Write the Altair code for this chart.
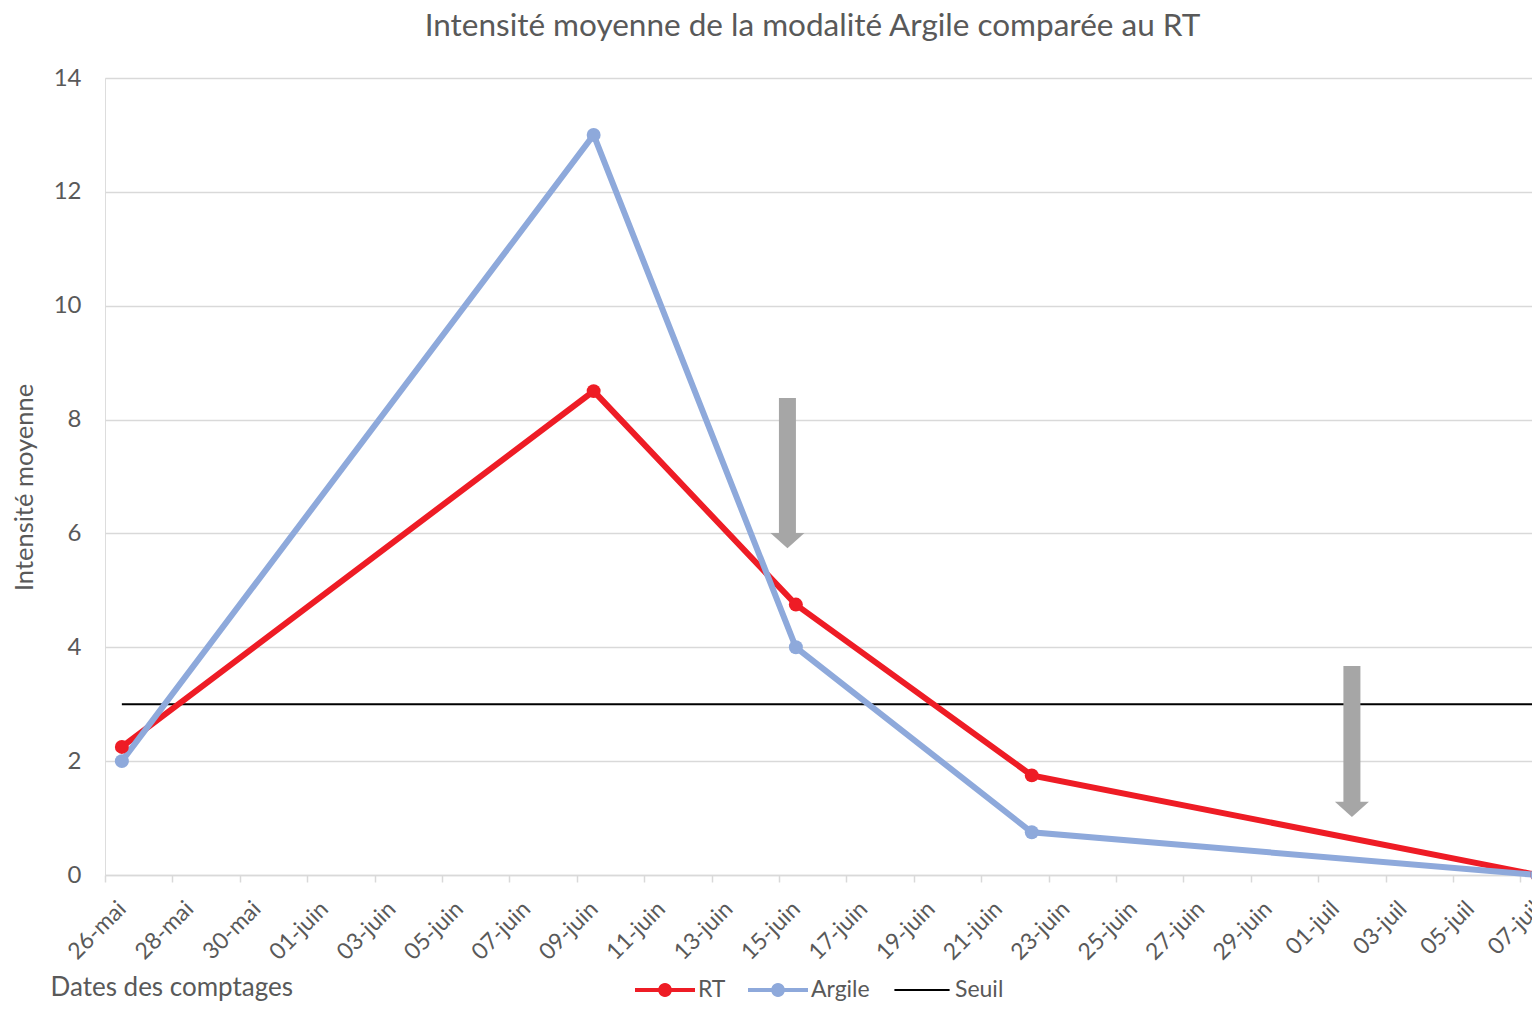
import math
import altair as alt
import pandas as pd

# ---- data ----
dates = ["2021-05-26", "2021-06-09", "2021-06-15", "2021-06-22", "2021-07-07"]
rt_values = [2.25, 8.5, 4.75, 1.75, 0.0]
argile_values = [2.0, 13.0, 4.0, 0.75, 0.0]
series_names = ["RT", "Argile", "Seuil"]
series_colors = ["#EE1C25", "#8EA9DB", "#000000"]
seuil_value = [3]
seuil_start = ["2021-05-26"]
seuil_end = ["2021-07-08"]
tick_dates = ["2021-05-26", "2021-05-28", "2021-05-30", "2021-06-01", "2021-06-03",
              "2021-06-05", "2021-06-07", "2021-06-09", "2021-06-11", "2021-06-13",
              "2021-06-15", "2021-06-17", "2021-06-19", "2021-06-21", "2021-06-23",
              "2021-06-25", "2021-06-27", "2021-06-29", "2021-07-01", "2021-07-03",
              "2021-07-05", "2021-07-07"]
month_names = ["janv", "févr", "mars", "avr", "mai", "juin", "juil", "août",
               "sept", "oct", "nov", "déc"]
y_ticks = [0, 2, 4, 6, 8, 10, 12, 14]
arrow_x = ["2021-06-15 06:00", "2021-07-02 00:00"]
arrow_top = [8.38, 3.67]
arrow_base = [5.95, 1.25]
arrow_tip = [5.74, 1.02]

FONT = "Lato"
TXT = "#595959"
GRID = "#D9D9D9"
HALF_DAY = 43200000


def dt(s, hours=0, minutes=0):
    y, m, d = (int(v) for v in s.split("-"))
    return alt.DateTime(year=y, month=m, date=d, hours=hours, minutes=minutes, utc=True)


rows = []
for d, r, a in zip(dates, rt_values, argile_values):
    rows.append({"serie": "RT", "date": d, "value": r})
    rows.append({"serie": "Argile", "date": d, "value": a})
df = pd.DataFrame(rows)

seuil_df = pd.DataFrame({"start": seuil_start, "end": seuil_end, "value": seuil_value})
arrow_df = pd.DataFrame({"x": arrow_x, "top": arrow_top, "base": arrow_base, "tip": arrow_tip})
legend_df = pd.DataFrame({"serie": series_names})

# visible window ends a little before the last date (the chart is cut at the right edge)
x_scale = alt.Scale(type="utc", domain=[dt("2021-05-26"), dt("2021-07-07", 8, 15)])
y_scale = alt.Scale(domain=[0, 14], nice=False, zero=True)

month_js = "[" + ",".join("'" + m + "'" for m in month_names) + "]"
x_axis = alt.Axis(
    values=[dt(s) for s in tick_dates],
    labelExpr="utcFormat(datum.value, '%d') + '-' + " + month_js + "[utcmonth(datum.value)]",
    labelAngle=-45, labelAlign="right", labelBaseline="middle",
    labelOffset=17, labelPadding=23, labelFont=FONT, labelFontSize=23, labelColor=TXT,
    labelOverlap=False, labelFlush=False, labelBound=False,
    tickColor=GRID, tickSize=7, tickWidth=1.5,
    domainColor=GRID, domainWidth=1.5, grid=False,
    title="Dates des comptages", titleX=-55, titleY=120, titleAlign="left",
    titleBaseline="alphabetic", titleFont=FONT, titleFontSize=26, titleFontWeight="normal",
    titleColor=TXT,
)
y_axis = alt.Axis(
    values=y_ticks, grid=True, gridColor=GRID, gridWidth=1.3,
    domain=False, ticks=False, labelPadding=24,
    labelFont=FONT, labelFontSize=24, labelColor=TXT,
    title="Intensité moyenne", titleX=-81, titleY=409, titleAngle=-90,
    titleAlign="center", titleBaseline="middle", titleFont=FONT, titleFontSize=25.5,
    titleFontWeight="normal", titleColor=TXT,
)

# colour scale for the two data series only (domain differs from the legend's)
line_scale = alt.Scale(domain=series_names[:2], range=series_colors[:2])

base = alt.Chart(df).transform_calculate(
    t="time(utcParse(datum.date, '%Y-%m-%d')) + " + str(HALF_DAY)
)

seuil = alt.Chart(seuil_df).transform_calculate(
    t0="time(utcParse(datum.start, '%Y-%m-%d')) + " + str(HALF_DAY),
    t1="time(utcParse(datum.end, '%Y-%m-%d'))",
).mark_rule(color=series_colors[2], strokeWidth=2).encode(
    x=alt.X("t0:T", scale=x_scale, axis=x_axis),
    x2="t1:T",
    y=alt.Y("value:Q", scale=y_scale, axis=y_axis),
)

lines = base.mark_line(strokeWidth=6).encode(
    x=alt.X("t:T", scale=x_scale, axis=x_axis),
    y=alt.Y("value:Q", scale=y_scale, axis=y_axis),
    color=alt.Color("serie:N", scale=line_scale, legend=None),
    order=alt.Order("t:Q"),
)
points = base.mark_point(filled=True, size=195, opacity=1).encode(
    x=alt.X("t:T", scale=x_scale, axis=x_axis),
    y=alt.Y("value:Q", scale=y_scale, axis=y_axis),
    color=alt.Color("serie:N", scale=line_scale, legend=None),
)

arrows_base = alt.Chart(arrow_df).transform_calculate(
    ax="time(utcParse(datum.x, '%Y-%m-%d %H:%M'))"
)
shafts = arrows_base.mark_rule(color="#A6A6A6", strokeWidth=17, strokeCap="butt").encode(
    x=alt.X("ax:T", scale=x_scale, axis=x_axis),
    y=alt.Y("top:Q", scale=y_scale, axis=y_axis),
    y2="base:Q",
)
heads = arrows_base.mark_point(
    shape="M-1,-0.9L1,-0.9L0,0Z", size=1156, filled=True, color="#A6A6A6", opacity=1,
).encode(
    x=alt.X("ax:T", scale=x_scale, axis=x_axis),
    y=alt.Y("tip:Q", scale=y_scale, axis=y_axis),
)

# legend symbols: line (+ marker) drawn as filled paths (symbol geometry only)
r = 0.23
circle = "M" + "L".join(
    "{:.4f},{:.4f}".format(r * math.cos(2 * math.pi * k / 24), r * math.sin(2 * math.pi * k / 24))
    for k in range(24)
) + "Z"
marker_path = "M-1,-0.07L1,-0.07L1,0.07L-1,0.07Z" + circle
thin_path = "M-0.92,-0.035L0.92,-0.035L0.92,0.035L-0.92,0.035Z"

legend_obj = alt.Legend(
    title=None, orient="none", legendX=530, legendY=882, direction="horizontal",
    symbolSize=3600, symbolStrokeWidth=0, symbolOpacity=1,
    labelFont=FONT, labelFontSize=23, labelColor=TXT, labelOffset=3,
    columnPadding=22, padding=0,
)
legend_layer = alt.Chart(legend_df).mark_point(filled=True, opacity=0).encode(
    fill=alt.Fill("serie:N", scale=alt.Scale(domain=series_names, range=series_colors),
                  legend=legend_obj),
    shape=alt.Shape("serie:N", scale=alt.Scale(domain=series_names,
                                               range=[marker_path, marker_path, thin_path]),
                    legend=legend_obj),
)

chart = alt.layer(seuil, lines, points, shafts, heads, legend_layer).properties(
    width=1427, height=797,
    title=alt.TitleParams(
        "Intensité moyenne de la modalité Argile comparée au RT",
        font=FONT, fontSize=31.5, fontWeight="normal", color=TXT,
        anchor="middle", offset=24, dx=-6,
    ),
    autosize=alt.AutoSizeParams(type="none"),
    padding={"left": 97, "top": 70, "right": 0, "bottom": 129},
).configure_view(stroke=None).configure(background="white")

chart.save("out.html", embed_options={"renderer": "svg", "actions": False})
